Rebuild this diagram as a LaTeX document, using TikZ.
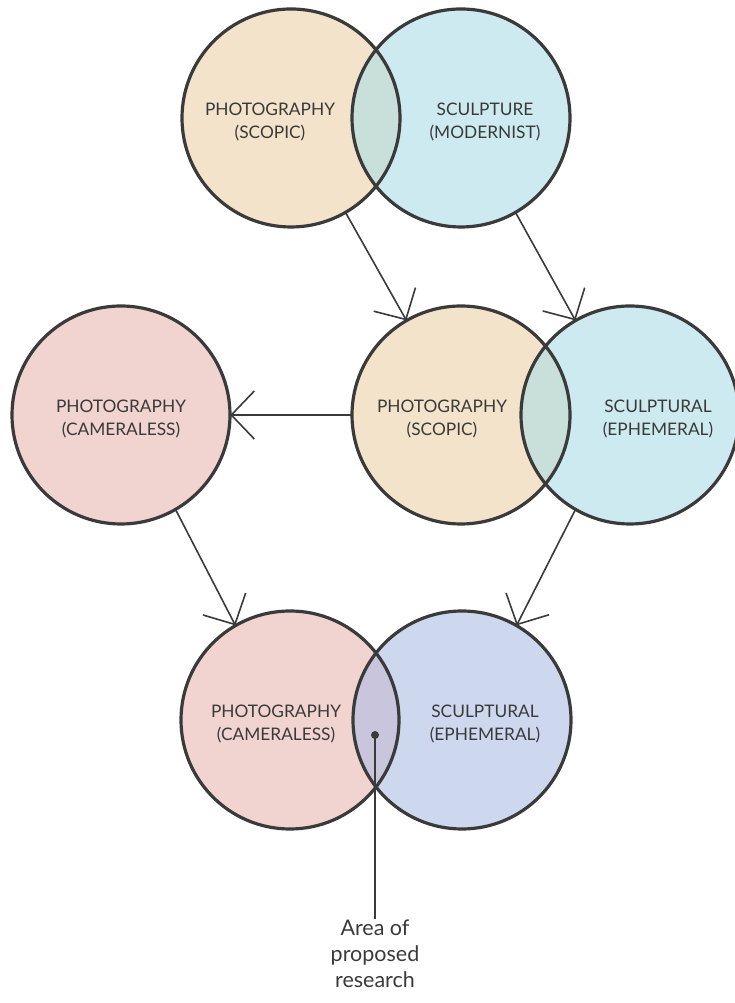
\documentclass[tikz,border=0pt]{standalone}
\usepackage{fontspec}
\setmainfont{Lato}
\usetikzlibrary{arrows.meta, positioning, calc}
\definecolor{ink}{HTML}{3A3A3A}
\definecolor{sand}{HTML}{F3E3CB}
\definecolor{ice}{HTML}{CDEAF0}
\definecolor{rose}{HTML}{F1D4CF}
\definecolor{periwinkle}{HTML}{CDD8EE}
\definecolor{sandice}{HTML}{C8E0D9}
\definecolor{roseperi}{HTML}{C9C5DC}

\begin{document}
\begin{tikzpicture}[x=1pt, y=1pt, >={Straight Barb[length=23pt,width=48pt]},
  blob/.style={circle, minimum size=218pt, inner sep=0pt},
  ring/.style={draw=ink, line width=3.2pt},
  lbl/.style={align=center, text=ink, font=\fontsize{17.3}{23}\selectfont},
  flow/.style={->, draw=ink, line width=1.6pt}]
  \useasboundingbox (0,0) rectangle (735,1003);

  % circles
  \node[blob, fill=sand] (tl) at (291,885) {};
  \node[blob, fill=ice] (tr) at (461,885) {};
  \node[blob, fill=rose] (ml) at (121,588) {};
  \node[blob, fill=sand] (mc) at (461,588) {};
  \node[blob, fill=ice] (mr) at (630,588) {};
  \node[blob, fill=rose] (bl) at (290,283) {};
  \node[blob, fill=periwinkle] (br) at (462,283) {};

  % overlaps
  \begin{scope}
    \clip (tl.center) circle (109pt);
    \fill[sandice] (tr.center) circle (109pt);
  \end{scope}
  \begin{scope}
    \clip (mc.center) circle (109pt);
    \fill[sandice] (mr.center) circle (109pt);
  \end{scope}
  \begin{scope}
    \clip (bl.center) circle (109pt);
    \fill[roseperi] (br.center) circle (109pt);
  \end{scope}

  \foreach \c in {tl,tr,ml,mc,mr,bl,br}
    \draw[ring] (\c.center) circle (109pt);

  % labels
  \node[lbl, xshift=-21pt, yshift=-4pt] (tlt) at (tl) {PHOTOGRAPHY\\(SCOPIC)};
  \node[lbl, xshift=24pt, yshift=-4pt] (trt) at (tr) {SCULPTURE\\(MODERNIST)};
  \node[lbl, yshift=-4pt] (mlt) at (ml) {PHOTOGRAPHY\\(CAMERALESS)};
  \node[lbl, xshift=-19pt, yshift=-4pt] (mct) at (mc) {PHOTOGRAPHY\\(SCOPIC)};
  \node[lbl, xshift=28pt, yshift=-4pt] (mrt) at (mr) {SCULPTURAL\\(EPHEMERAL)};
  \node[lbl, xshift=-14pt, yshift=-4pt] (blt) at (bl) {PHOTOGRAPHY\\(CAMERALESS)};
  \node[lbl, xshift=23pt, yshift=-4pt] (brt) at (br) {SCULPTURAL\\(EPHEMERAL)};

  % arrows
  \draw[flow] (tl.-60) -- (mc.120);
  \draw[flow] (tr.-60) -- (mr.120);
  \draw[flow] (mc.west) -- (ml.east);
  \draw[flow] (ml.-60) -- (bl.120);
  \draw[flow] (mr.240) -- (br.60);

  % pointer
  \coordinate (spot) at (375,268);
  \fill[ink] (spot) circle (4pt);
  \node[lbl, font=\fontsize{21.5}{26}\selectfont, anchor=north, inner sep=1pt] (area) at (375,84) {Area of\\proposed\\research};
  \draw[ink, line width=1.6pt] (spot) -- (area.north);
\end{tikzpicture}
\end{document}
